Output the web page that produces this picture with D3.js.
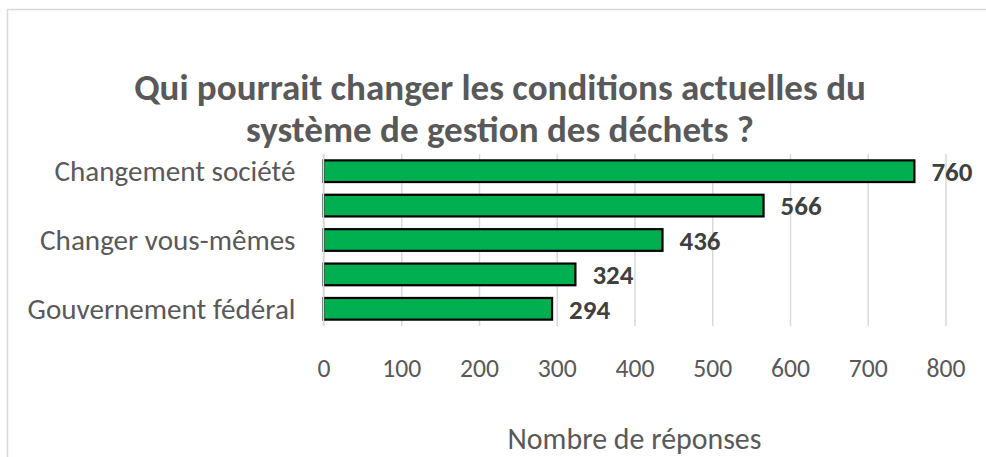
<!DOCTYPE html>
<html>
<head>
<meta charset="utf-8">
<script src="https://cdn.jsdelivr.net/npm/d3@7/dist/d3.min.js"></script>
<style>
  html, body { margin: 0; padding: 0; background: #ffffff; }
  svg { display: block; }
</style>
</head>
<body>
<div id="chart"></div>
<script>
// ---- data ----
const titleLines = ["Qui pourrait changer les conditions actuelles du", "système de gestion des déchets ?"];
// labels of the 2nd and 4th bars are not displayed in the reference
const categories = ["Changement société", "", "Changer vous-mêmes", "", "Gouvernement fédéral"];
const values = [760, 566, 436, 324, 294];
const xTicks = [0, 100, 200, 300, 400, 500, 600, 700, 800];
const xAxisTitle = "Nombre de réponses";

// ---- layout ----
const W = 986, H = 457;
const FONT = "Carlito, Calibri, Lato, 'Open Sans', sans-serif";
const plot = { left: 323.5, right: 945.5, top: 154, bottom: 326 };

const svg = d3.select("#chart").append("svg")
  .attr("width", W).attr("height", H)
  .style("font-family", FONT);

svg.append("rect").attr("x", 0).attr("y", 0).attr("width", W).attr("height", H).attr("fill", "#fff");
// chart frame (extends beyond the visible area on right and bottom)
svg.append("rect")
  .attr("x", 7.5).attr("y", 9.5).attr("width", 1200).attr("height", 800)
  .attr("fill", "none").attr("stroke", "#d9d9d9").attr("stroke-width", 1.5);

const x = d3.scaleLinear().domain([0, 800]).range([plot.left, plot.right]);
const idx = categories.map((d, i) => i);
const y = d3.scaleBand().domain(idx).range([plot.top, plot.bottom])
  .paddingInner(0.37).paddingOuter(0.185);

// scale a text's font size so its width matches a target width
function fit(sel, target, base) {
  let size = base;
  sel.each(function() {
    const w = this.getComputedTextLength();
    if (w > 0) { size = base * target / w; d3.select(this).attr("font-size", size); }
  });
  return size;
}

// title
const title = svg.append("g");
const t1 = title.append("text").attr("x", 500).attr("y", 100).attr("text-anchor", "middle")
  .attr("font-weight", "bold").attr("fill", "#595959").attr("font-size", 28).text(titleLines[0]);
const t2 = title.append("text").attr("x", 500).attr("y", 142).attr("text-anchor", "middle")
  .attr("font-weight", "bold").attr("fill", "#595959").attr("font-size", 28).text(titleLines[1]);
const s1 = fit(t1, 735, 28), s2 = fit(t2, 506, 28);
const ts = (s1 + s2) / 2;
t1.attr("font-size", ts); t2.attr("font-size", ts);

// gridlines via axis
const grid = svg.append("g").attr("transform", `translate(0,${plot.bottom})`)
  .call(d3.axisBottom(x).tickValues(xTicks).tickSize(-(plot.bottom - plot.top)).tickFormat(""));
grid.select(".domain").remove();
grid.selectAll(".tick line").attr("stroke", "#d9d9d9").attr("stroke-width", 1.5);

// tick labels
const xAxis = svg.append("g").attr("transform", `translate(0,${plot.bottom})`)
  .call(d3.axisBottom(x).tickValues(xTicks).tickSize(0).tickPadding(0).tickFormat(d3.format("d")));
xAxis.select(".domain").remove();
const tickTexts = xAxis.selectAll(".tick text")
  .attr("y", 51).attr("dy", 0)
  .attr("font-family", FONT).attr("font-size", 28).attr("fill", "#595959");
const tickSize = fit(tickTexts.filter(d => d === 100), 39, 28);
tickTexts.attr("font-size", tickSize);

// bars
svg.append("g").selectAll("rect").data(values).join("rect")
  .attr("x", x(0))
  .attr("y", (d, i) => y(i))
  .attr("width", d => x(d) - x(0))
  .attr("height", y.bandwidth())
  .attr("fill", "#00b050")
  .attr("stroke", "#000").attr("stroke-width", 2.2);

// category axis
const yAxis = svg.append("g").attr("transform", `translate(${plot.left},0)`)
  .call(d3.axisLeft(y).tickSize(0).tickPadding(28).tickFormat(i => categories[i]));
yAxis.select(".domain").attr("stroke", "#d9d9d9").attr("stroke-width", 1.5)
  .attr("d", `M0,${plot.top}V${plot.bottom}`);
const catTexts = yAxis.selectAll(".tick text")
  .attr("font-family", FONT).attr("font-size", 28).attr("fill", "#595959")
  .attr("dy", "0.34em");
const catSize = fit(catTexts.filter(i => i === 4), 268, 28);
catTexts.attr("font-size", catSize);

// value labels
const valTexts = svg.append("g").selectAll("text").data(values).join("text")
  .attr("x", d => x(d) + 17)
  .attr("y", (d, i) => y(i) + y.bandwidth() / 2)
  .attr("dy", "0.36em")
  .attr("font-weight", "bold").attr("font-size", 28).attr("fill", "#404040")
  .text(d => d);
const valSize = fit(valTexts.filter((d, i) => i === 0), 41, 28);
valTexts.attr("font-size", valSize);

// axis title
const at = svg.append("text").attr("x", (plot.left + plot.right) / 2).attr("y", 449)
  .attr("text-anchor", "middle").attr("font-size", 28).attr("fill", "#595959")
  .text(xAxisTitle);
fit(at, 254, 28);
</script>
</body>
</html>
